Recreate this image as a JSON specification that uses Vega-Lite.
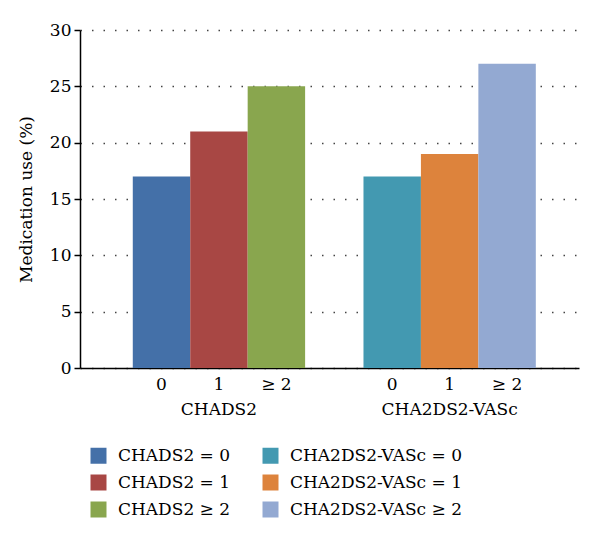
{
  "$schema": "https://vega.github.io/schema/vega-lite/v6.json",
  "autosize": {"type": "none"},
  "width": 499,
  "height": 338,
  "padding": {"left": 80, "top": 30, "right": 21, "bottom": 178},
  "background": "white",
  "config": {
    "font": "DejaVu Serif",
    "view": {"stroke": null}
  },
  "data": {
    "values": [
      {"score": "CHADS2", "level": "0", "series": "CHADS2 = 0", "value": 17},
      {"score": "CHADS2", "level": "1", "series": "CHADS2 = 1", "value": 21},
      {"score": "CHADS2", "level": "≥ 2", "series": "CHADS2 ≥ 2", "value": 25},
      {"score": "CHA2DS2-VASc", "level": "0", "series": "CHA2DS2-VASc = 0", "value": 17},
      {"score": "CHA2DS2-VASc", "level": "1", "series": "CHA2DS2-VASc = 1", "value": 19},
      {"score": "CHA2DS2-VASc", "level": "≥ 2", "series": "CHA2DS2-VASc ≥ 2", "value": 27}
    ]
  },
  "encoding": {
    "x": {
      "field": "score",
      "type": "nominal",
      "sort": ["CHADS2", "CHA2DS2-VASc"],
      "scale": {"paddingInner": 0.253, "paddingOuter": 0.208, "align": 0.55},
      "axis": {
        "title": null,
        "labelAngle": 0,
        "ticks": false,
        "labelPadding": 33,
        "labelFontSize": 17,
        "labelColor": "black",
        "domainColor": "black",
        "domainWidth": 1.5,
        "grid": false
      }
    },
    "xOffset": {
      "field": "level",
      "type": "nominal",
      "sort": ["0", "1", "≥ 2"],
      "scale": {"paddingInner": 0, "paddingOuter": 0}
    }
  },
  "layer": [
    {
      "mark": {"type": "bar"},
      "encoding": {
        "y": {
          "field": "value",
          "type": "quantitative",
          "scale": {"domain": [0, 30]},
          "axis": {
            "title": "Medication use (%)",
            "titleFontSize": 17,
            "titleFontWeight": "normal",
            "titleColor": "black",
            "titlePadding": 14,
            "values": [0, 5, 10, 15, 20, 25, 30],
            "labelFontSize": 17,
            "labelColor": "black",
            "labelPadding": 3,
            "tickColor": "black",
            "tickSize": 6,
            "tickWidth": 1.5,
            "domainColor": "black",
            "domainWidth": 1.5,
            "grid": true,
            "gridColor": "#444444",
            "gridDash": [1.5, 10],
            "gridWidth": 1.5
          }
        },
        "color": {
          "field": "series",
          "type": "nominal",
          "scale": {
            "domain": ["CHADS2 = 0", "CHADS2 = 1", "CHADS2 ≥ 2", "CHA2DS2-VASc = 0", "CHA2DS2-VASc = 1", "CHA2DS2-VASc ≥ 2"],
            "range": ["#4470A8", "#A84744", "#89A64E", "#4399B1", "#DD833C", "#93A9D2"]
          },
          "legend": {
            "title": null,
            "orient": "none",
            "legendX": 10,
            "legendY": 417,
            "columns": 2,
            "columnPadding": 31,
            "rowPadding": 9,
            "symbolType": "square",
            "symbolSize": 256,
            "symbolStrokeWidth": 0,
            "symbolOpacity": 1,
            "labelFontSize": 17,
            "labelColor": "black",
            "labelOffset": 11,
            "labelLimit": 300
          }
        }
      }
    },
    {
      "mark": {"type": "text", "baseline": "top", "dy": 9, "fontSize": 17, "color": "black"},
      "encoding": {
        "y": {"datum": 0, "type": "quantitative"},
        "text": {"field": "level"}
      }
    }
  ]
}
